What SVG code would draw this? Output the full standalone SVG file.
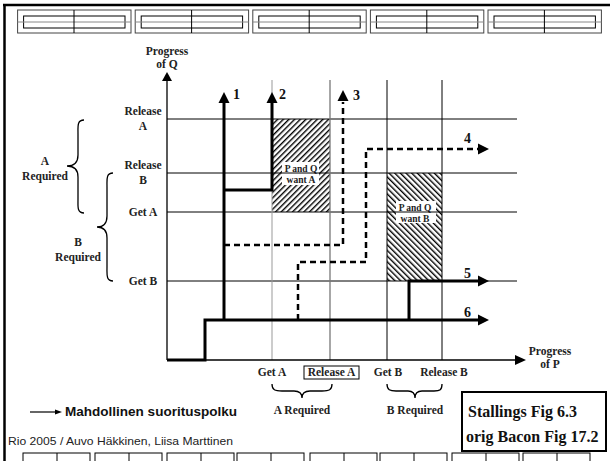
<svg xmlns="http://www.w3.org/2000/svg" width="610" height="461" viewBox="0 0 610 461">
<style>
.lbl{font-family:"Liberation Serif",serif;font-size:11.5px;font-weight:bold;fill:#222;text-anchor:middle}
.num{font-family:"Liberation Serif",serif;font-size:14px;font-weight:bold;fill:#111}
.small{font-family:"Liberation Serif",serif;font-size:9.5px;font-weight:bold;fill:#222;text-anchor:middle}
.grid{stroke:#000;stroke-width:1;fill:none}
.gridg{stroke:#999;stroke-width:1;fill:none}
.path{stroke:#000;stroke-width:3;fill:none}
.dash{stroke:#000;stroke-width:2.5;fill:none;stroke-dasharray:6 4}
.brace{stroke:#000;stroke-width:1.3;fill:none}
.ah{fill:#000}
</style>
<defs>
<pattern id="hA" patternUnits="userSpaceOnUse" width="4" height="4" patternTransform="rotate(45)"><line x1="0.7" y1="0" x2="0.7" y2="4" stroke="#000" stroke-width="1.4"/></pattern>
<pattern id="hB" patternUnits="userSpaceOnUse" width="4" height="4" patternTransform="rotate(-45)"><line x1="0.7" y1="0" x2="0.7" y2="4" stroke="#000" stroke-width="1.4"/></pattern>
<g id="topbox">
<rect x="0" y="10" width="113.4" height="23" fill="none" stroke="#444" stroke-width="1"/>
<rect x="6" y="16" width="101.4" height="12" fill="none" stroke="#000" stroke-width="1"/>
<line x1="0" y1="22" x2="113.4" y2="22" stroke="#888" stroke-width="1"/>
<line x1="56.4" y1="10" x2="56.4" y2="33" stroke="#000" stroke-width="1"/>
</g>
<g id="botbox">
<rect x="0" y="453" width="67" height="12" fill="none" stroke="#000" stroke-width="1"/>
<line x1="34" y1="453" x2="34" y2="461" stroke="#000" stroke-width="1"/>
</g>
</defs>
<rect width="610" height="461" fill="#fff"/>
<g id="frame">
<line x1="3" y1="5" x2="610" y2="5" stroke="#000" stroke-width="2.5"/>
<line x1="4.5" y1="4" x2="4.5" y2="461" stroke="#000" stroke-width="2.5"/>
<use href="#topbox" x="17.6"/>
<use href="#topbox" x="135.2"/>
<use href="#topbox" x="252.8"/>
<use href="#topbox" x="370.4"/>
<use href="#topbox" x="488"/>
<use href="#botbox" x="23"/>
<use href="#botbox" x="95"/>
<use href="#botbox" x="167"/>
<use href="#botbox" x="237"/>
<use href="#botbox" x="310"/>
<use href="#botbox" x="380"/>
<use href="#botbox" x="452"/>
<use href="#botbox" x="523"/>
</g>
<g id="regionA">
<rect x="272" y="119" width="58" height="93" fill="url(#hA)"/>
<rect x="282" y="162" width="37" height="23" fill="#fff"/>
<text class="small" x="301" y="172">P and Q</text>
<text class="small" x="301" y="183">want A</text>
</g>
<g id="regionB">
<rect x="387" y="173" width="55" height="108" fill="url(#hB)"/>
<rect x="396" y="201" width="40" height="22" fill="#fff"/>
<text class="small" x="415" y="211">P and Q</text>
<text class="small" x="415" y="222">want B</text>
</g>
<g id="grid">
<line class="grid" x1="167" y1="119" x2="517" y2="119"/>
<line class="grid" x1="167" y1="173" x2="517" y2="173"/>
<line class="grid" x1="167" y1="212" x2="517" y2="212"/>
<line class="grid" x1="167" y1="281" x2="517" y2="281"/>
<line class="gridg" x1="272" y1="80" x2="272" y2="360"/>
<line x1="330" y1="80" x2="330" y2="360" stroke="#777" stroke-width="1.3"/>
<line class="grid" x1="387" y1="80" x2="387" y2="360"/>
<line class="grid" x1="442" y1="80" x2="442" y2="360"/>
</g>
<g id="axisQ">
<line x1="167" y1="360" x2="167" y2="80" stroke="#000" stroke-width="1.3"/>
<polygon class="ah" points="167,72 162,81 172,81"/>
<text class="lbl" x="167" y="55">Progress</text>
<text class="lbl" x="167" y="68">of Q</text>
</g>
<g id="axisP">
<line x1="167" y1="360" x2="516" y2="360" stroke="#000" stroke-width="1.3"/>
<polygon class="ah" points="526,360 515,355 515,365"/>
<text class="lbl" x="550" y="355">Progress</text>
<text class="lbl" x="550" y="368">of P</text>
</g>
<g id="connectors">
<polyline class="path" points="224,320 224,102"/>
<polygon class="ah" points="224,92 218.5,103 229.5,103"/>
<polyline class="path" points="224,190 272,190 272,102"/>
<polygon class="ah" points="272,92 266.5,103 277.5,103"/>
<polyline class="dash" points="224,245 343,245 343,102"/>
<polygon class="ah" points="343,90 337.5,101 348.5,101"/>
<polyline class="dash" points="298,320 298,262 366,262 366,149 478,149"/>
<polygon class="ah" points="489,149 478,143.5 478,154.5"/>
<polyline class="path" points="409,320 409,281 479,281"/>
<polygon class="ah" points="489,281 478,275.5 478,286.5"/>
<polyline class="path" points="167,360 205,360 205,320 479,320"/>
<polygon class="ah" points="489,320 478,314.5 478,325.5"/>
</g>
<g id="numbers">
<text class="num" x="233" y="99">1</text>
<text class="num" x="279" y="99">2</text>
<text class="num" x="353" y="100">3</text>
<text class="num" x="464" y="143">4</text>
<text class="num" x="464" y="278">5</text>
<text class="num" x="464" y="317">6</text>
</g>
<g id="qlabels">
<text class="lbl" x="143" y="115">Release</text>
<text class="lbl" x="143" y="130">A</text>
<text class="lbl" x="143" y="169">Release</text>
<text class="lbl" x="143" y="184">B</text>
<text class="lbl" x="143" y="216">Get A</text>
<text class="lbl" x="143" y="285">Get B</text>
<path class="brace" d="M84,120 C77,120 78,126 78,134 L78,155 C78,162 75,166 67,166 C75,166 78,170 78,177 L78,199 C78,207 77,213 84,213"/>
<text class="lbl" x="45" y="165">A</text>
<text class="lbl" x="45" y="180">Required</text>
<path class="brace" d="M113,173 C106,173 107,179 107,187 L107,216 C107,223 104,227 97,227 C104,227 107,231 107,238 L107,267 C107,275 106,281 113,281"/>
<text class="lbl" x="78" y="246">B</text>
<text class="lbl" x="78" y="261">Required</text>
</g>
<g id="plabels">
<text class="lbl" x="272" y="376">Get A</text>
<rect x="304" y="366" width="55" height="13" fill="none" stroke="#000" stroke-width="1"/>
<text class="lbl" x="331.5" y="376">Release A</text>
<text class="lbl" x="388" y="376">Get B</text>
<text class="lbl" x="444" y="376">Release B</text>
<path class="brace" d="M272,384 C272,390 275,391 282,391 L294,391 C299,391 302,393 302,398 C302,393 305,391 310,391 L322,391 C329,391 332,390 332,384"/>
<text class="lbl" x="302" y="414">A Required</text>
<path class="brace" d="M387,384 C387,390 390,391 396,391 L408,391 C412,391 415,393 415,398 C415,393 418,391 422,391 L434,391 C440,391 442,390 442,384"/>
<text class="lbl" x="415" y="414">B Required</text>
</g>
<g id="legend">
<line x1="30" y1="412" x2="56" y2="412" stroke="#000" stroke-width="1.2"/>
<polygon class="ah" points="62,412 55,409.5 55,414.5"/>
<text x="65" y="416" font-family="Liberation Sans, Arial, sans-serif" font-size="12.5" font-weight="bold" fill="#111" textLength="172" lengthAdjust="spacingAndGlyphs">Mahdollinen suorituspolku</text>
</g>
<g id="ref">
<rect x="462" y="392" width="144" height="59" fill="#fff" stroke="#000" stroke-width="2"/>
<text x="468" y="417" font-family="Liberation Serif, serif" font-size="16" font-weight="bold" fill="#111">Stallings Fig 6.3</text>
<text x="466" y="442" font-family="Liberation Serif, serif" font-size="16" font-weight="bold" fill="#111">orig Bacon Fig 17.2</text>
</g>
<text x="8" y="445" font-family="Liberation Sans, Arial, sans-serif" font-size="11" fill="#222" textLength="225" lengthAdjust="spacingAndGlyphs">Rio 2005 / Auvo Häkkinen, Liisa Marttinen</text>
</svg>
